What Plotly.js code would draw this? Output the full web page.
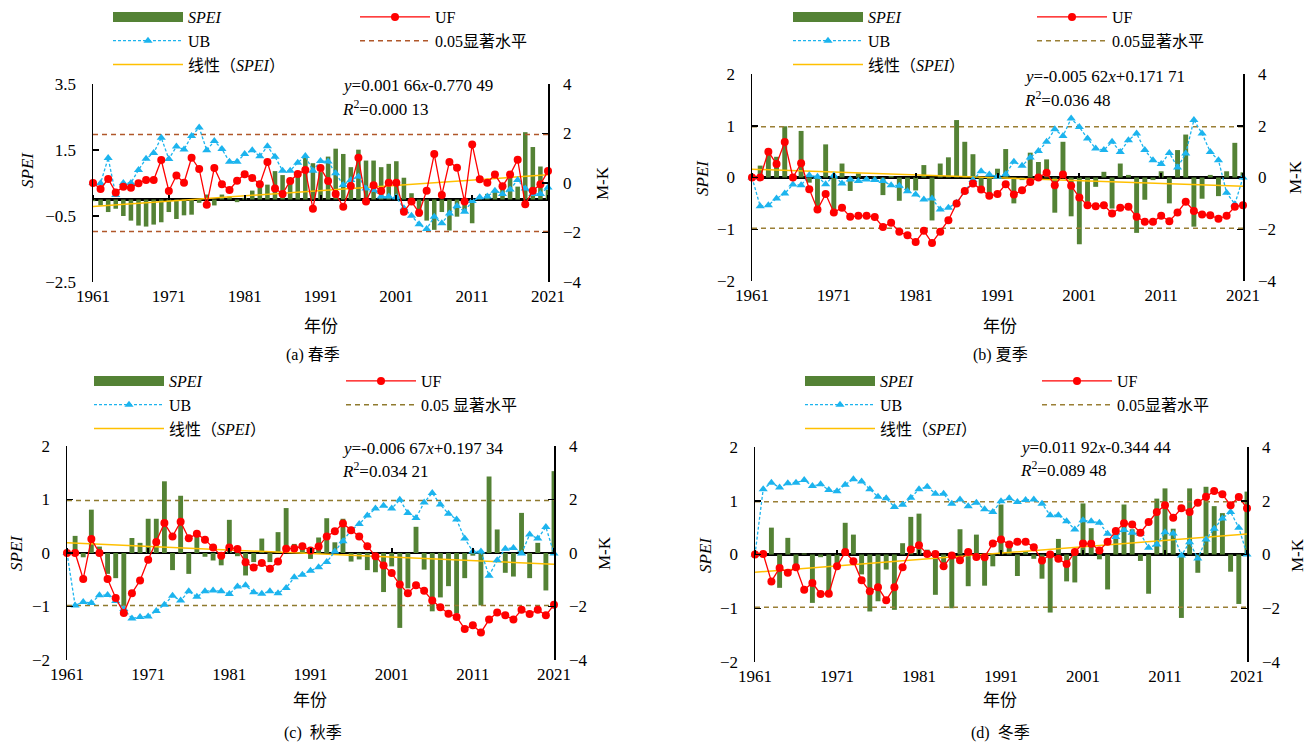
<!DOCTYPE html>
<html>
<head>
<meta charset="utf-8">
<script src="https://cdn.plot.ly/plotly-3.0.1.min.js"></script>
<style>html,body{margin:0;padding:0;background:#fff;}#chart{width:1309px;height:747px;}</style>
</head>
<body>
<div id="chart"></div>
<script>
// ---------- DATA ----------
const years = Array.from({length: 61}, (_, i) => 1961 + i);
const decadeTicks = [1961, 1971, 1981, 1991, 2001, 2011, 2021];
const trendYears = [1961, 2021];
const sigLevel = 1.96;

// (a) 春季
const speiSpring = [-0.05,-0.18,-0.38,-0.28,-0.5,-0.64,-0.79,-0.82,-0.76,-0.69,-0.38,
  -0.59,-0.48,-0.46,-0.1,0.15,-0.18,0.15,0.09,-0.08,0.05,
  0.27,0.37,0.45,0.86,0.74,0.6,0.86,1.3,1.1,0.83,
  1.3,1.54,1.38,0.98,1.51,1.18,1.18,0.98,1.08,1.16,
  0.66,0.19,-0.52,-0.64,-0.92,-0.38,-0.94,-0.52,-0.38,-0.72,
  0.09,0.17,0.27,0.47,0.68,0.39,2.04,1.59,1.0,0.3];
const ufSpring = [0,-0.24,0.16,-0.38,-0.15,-0.19,-0.01,0.12,0.12,0.93,-0.32,
  0.30,0.01,1.02,0.57,-0.88,0.61,-0.05,-0.28,0.09,0.35,
  0.2,-0.05,0.85,-0.22,-0.44,0.08,0.36,0.53,-1.04,0.61,
  0.08,-0.44,-0.96,-0.12,1.02,-0.75,-0.09,-0.32,0.01,0.01,
  -1.16,-0.75,-1.2,-0.31,1.17,-0.48,0.85,0.62,-0.75,1.56,
  0.15,0.01,0.34,-0.13,0.34,0.94,-0.86,-0.31,-0.05,0.48];
const ubSpring = [0,-0.01,1.01,-0.48,0,0,0.53,0.98,1.21,1.83,0.97,
  1.47,1.35,1.9,2.24,1.32,1.7,1.37,0.86,0.86,1.17,
  1.32,1.08,1.48,1.06,0.5,0.5,0.82,1.09,0.5,0.89,
  0.87,0.39,-0.08,0.12,0.26,-0.22,-0.28,-0.55,-0.55,-0.58,
  -1.02,-1.32,-1.67,-1.86,-1.36,-1.63,-1.23,-0.93,-1.16,-0.73,
  -0.58,-0.55,-0.31,-0.44,-0.26,0.12,-0.22,-0.44,-0.44,-0.18];
const trendSpring = [-0.21, 0.75];

// (b) 夏季
const speiSummer = [0,0.23,0.46,0.4,0.99,0.05,0.9,-0.1,-0.6,0.64,-0.62,
  0.27,-0.26,0.08,-0.03,0.02,-0.34,0.03,-0.45,-0.28,-0.25,
  0.24,-0.83,0.27,0.39,1.11,0.69,0.45,-0.18,-0.3,0.17,
  0.55,-0.5,-0.05,0.48,0.3,0.35,-0.68,0.69,-0.75,-1.29,
  -0.47,-0.18,0.11,-0.6,0.27,0.05,-1.07,-0.43,-0.05,0.12,
  -0.5,0.53,0.83,-0.95,-0.41,0.05,-0.36,0.12,0.67,0.1];
const ufSummer = [0,0,1.0,0.52,1.37,0,0.55,-0.45,-1.24,-0.64,-1.35,
  -1.17,-1.52,-1.48,-1.48,-1.53,-1.91,-1.75,-2.1,-2.23,-2.49,
  -2.06,-2.53,-2.1,-1.65,-1.0,-0.52,-0.23,-0.46,-0.71,-0.64,
  -0.26,-0.66,-0.49,-0.17,0,0.18,-0.3,0.12,-0.32,-0.77,
  -1.07,-1.11,-1.07,-1.39,-1.17,-1.13,-1.52,-1.71,-1.71,-1.48,
  -1.69,-1.35,-0.94,-1.29,-1.43,-1.46,-1.59,-1.48,-1.13,-1.07];
const ubSummer = [0,-1.11,-1.07,-0.81,-0.62,-0.27,-0.3,0.09,0.03,-0.26,0.08,
  -0.23,-0.08,-0.14,-0.08,-0.1,-0.14,-0.3,-0.32,-0.53,-0.66,
  -0.85,-0.81,-1.24,-1.17,-0.98,-0.53,-0.1,0.24,0.12,0.03,
  0.13,0.61,0.45,0.77,1.02,1.38,1.86,1.6,2.28,1.95,
  1.51,1.12,1.06,1.38,0.99,1.44,1.7,1.06,0.67,0.52,
  0.95,0.39,0.93,2.22,1.7,0.99,0.67,-0.59,-1.03,0];
const trendSummer = [0.16, -0.17];

// (c) 秋季
const speiAutumn = [0,0.32,-0.08,0.81,0.12,-0.39,-0.47,-1.0,0.28,0.19,0.64,
  0.64,1.34,-0.32,1.07,-0.39,0.31,-0.07,-0.14,-0.23,0.62,
  -0.06,-0.42,-0.17,0.27,-0.17,0.39,0.84,0.17,0.1,-0.11,
  0.29,0.65,0.2,0.64,-0.16,-0.12,-0.32,-0.36,-0.73,-0.25,
  -1.4,-0.66,0.49,-0.31,-1.09,-0.83,-0.62,-1.13,-0.47,-0.05,
  -0.98,1.43,0.44,-0.37,-0.44,0.75,-0.47,0.19,-0.7,1.53];
const ufAutumn = [0,0,-0.97,0.52,0,-0.97,-1.68,-2.24,-1.5,-1.03,-0.25,
  0.41,1.12,0.62,1.17,0.55,0.72,0.5,0.21,-0.1,0.21,
  0.15,-0.35,-0.54,-0.37,-0.59,-0.32,0.16,0.17,0.25,0.09,
  0.24,0.62,0.81,1.1,0.85,0.62,0.25,-0.12,-0.47,-0.75,
  -1.18,-1.5,-1.21,-1.41,-1.78,-2.03,-2.27,-2.39,-2.84,-2.7,
  -2.97,-2.49,-2.22,-2.33,-2.49,-2.12,-2.28,-2.12,-2.33,-1.93];
const ubAutumn = [0,-1.96,-1.83,-1.87,-1.58,-1.57,-1.79,-2.09,-2.45,-2.39,-2.37,
  -2.17,-1.93,-1.6,-1.78,-1.43,-1.64,-1.43,-1.4,-1.43,-1.53,
  -1.25,-1.21,-1.47,-1.52,-1.43,-1.5,-1.31,-0.91,-0.81,-0.66,
  -0.53,-0.34,0.06,0.44,0.85,1.08,1.4,1.66,1.77,1.66,
  1.99,1.5,1.31,1.89,2.24,1.81,1.47,1.25,0.54,0.06,
  0.06,-0.85,-0.27,0.16,0.19,-0.02,0.69,0.54,0.97,-0.02];
const trendAutumn = [0.19, -0.21];

// (d) 冬季
const speiWinter = [0,0.05,0.5,-0.62,0.31,-0.19,0.02,-0.9,-0.05,-0.78,-0.16,
  0.59,0.37,-0.37,-1.06,-0.87,-0.28,-1.03,0.21,0.7,0.76,
  0.09,-0.75,-0.16,-1.0,0.47,-0.59,0.37,-0.58,-0.22,0.93,
  0.15,-0.4,0.06,-0.08,-0.45,-1.08,0.29,-0.5,-0.52,0.95,
  0.49,-0.09,-0.65,0.47,0.93,0.47,-0.12,-0.73,1.04,1.23,
  0.48,-1.18,1.23,-0.34,1.26,0.9,0.77,-0.32,-0.92,1.17];
const ufWinter = [0,0.02,-1.0,-0.5,-0.68,-0.47,-1.31,-1.06,-1.47,-1.46,-0.44,
  0.09,-0.25,-0.96,-1.37,-1.22,-1.7,-1.22,-0.47,0.19,0.34,
  0.02,0.02,-0.44,-0.04,-0.21,0.09,-0.09,-0.1,0.41,0.56,
  0.37,0.47,0.47,0.27,-0.22,0,-0.16,-0.35,0.09,0.41,
  0.4,0.15,0.47,0.87,1.16,1.12,0.81,1.21,1.58,1.83,
  1.37,1.72,1.58,1.93,2.15,2.36,2.24,1.83,2.14,1.72];
const ubWinter = [0,2.43,2.67,2.49,2.65,2.67,2.77,2.55,2.61,2.4,2.35,
  2.6,2.8,2.72,2.43,2.15,2.09,1.77,1.85,2.11,2.43,
  2.52,2.26,2.26,1.89,2.05,1.8,1.93,1.68,1.58,1.98,
  2.09,1.95,2.03,2.05,1.89,1.46,1.46,1.24,0.93,1.27,
  1.24,1.18,0.77,0.65,0.91,0.81,0.77,0.25,0.37,0.83,
  0.78,-0.04,0.46,-0.15,0.56,0.96,1.34,1.58,1.0,0];
const trendWinter = [-0.33, 0.38];

const equations = [
  ['<i>y</i>=0.001 66<i>x</i>-0.770 49', '<i>R</i><sup>2</sup>=0.000 13'],
  ['<i>y</i>=-0.005 62<i>x</i>+0.171 71', '<i>R</i><sup>2</sup>=0.036 48'],
  ['<i>y</i>=-0.006 67<i>x</i>+0.197 34', '<i>R</i><sup>2</sup>=0.034 21'],
  ['<i>y</i>=0.011 92<i>x</i>-0.344 44', '<i>R</i><sup>2</sup>=0.089 48']
];
const captions = ['(a) 春季', '(b) 夏季', '(c)  秋季', '(d)  冬季'];
const sigNames = ['0.05显著水平', '0.05显著水平', '0.05 显著水平', '0.05显著水平'];

// ---------- LAYOUT GEOMETRY (pixels) ----------
const W = 1309, H = 747;
const px = v => v / W, py = v => 1 - v / H;
const panels = [
  {spei: speiSpring, uf: ufSpring, ub: ubSpring, trend: trendSpring,
   box: [93, 548, 84, 282], left: [-2.5, 3.5], leftTicks: [-2.5, -0.5, 1.5, 3.5], sigColor: '#B0572A',
   legL: [108, 0], legR: [355, 0], eq: [340, 86], ytitle: [28, 170], mk: [603, 183], xt: [321, 326], cap: [313, 355]},
  {spei: speiSummer, uf: ufSummer, ub: ubSummer, trend: trendSummer,
   box: [752, 1243, 74, 281], left: [-2, 2], leftTicks: [-2, -1, 0, 1, 2], sigColor: '#9A7F35',
   legL: [788, 0], legR: [1032, 0], eq: [1022, 77], ytitle: [703, 178], mk: [1295, 177], xt: [1000, 326], cap: [1000, 355]},
  {spei: speiAutumn, uf: ufAutumn, ub: ubAutumn, trend: trendAutumn,
   box: [67, 554, 446, 660], left: [-2, 2], leftTicks: [-2, -1, 0, 1, 2], sigColor: '#8F7A2E',
   legL: [89, 364], legR: [341, 364], eq: [340, 448], ytitle: [16, 553], mk: [604, 553], xt: [310, 700], cap: [313, 733]},
  {spei: speiWinter, uf: ufWinter, ub: ubWinter, trend: trendWinter,
   box: [755, 1247, 447, 662], left: [-2, 2], leftTicks: [-2, -1, 0, 1, 2], sigColor: '#9A7F35',
   legL: [800, 364], legR: [1037, 364], eq: [1018, 447], ytitle: [705, 555], mk: [1297, 555], xt: [1000, 700], cap: [1000, 733]}
];

const FONT = '"Liberation Serif", "Times New Roman", "Noto Sans CJK SC", serif';
const data = [];
const layout = {
  width: W, height: H, margin: {l: 0, r: 0, t: 0, b: 0, autoexpand: false},
  paper_bgcolor: '#fff', plot_bgcolor: 'rgba(0,0,0,0)',
  font: {family: FONT, size: 17, color: '#000'},
  showlegend: true, annotations: []
};

panels.forEach((p, k) => {
  const xa = k === 0 ? 'x' : 'x' + (k + 1);
  const xz = 'x' + (k + 5);            // overlay axis that draws the ticks on the SPEI=0 line
  const yl = k === 0 ? 'y' : 'y' + (2 * k + 1);
  const yr = 'y' + (2 * k + 2);
  const legL = k === 0 ? 'legend' : 'legend' + (2 * k + 1);
  const legR = 'legend' + (2 * k + 2);
  const ubLine = {color: '#1CB4EE', width: 1.3, dash: '3px,2px'};
  const sigLine = {color: p.sigColor, width: 1.5, dash: '5px,4px'};

  // legend-only swatch for SPEI bars (also anchors the zero-line tick axis)
  data.push({type: 'scatter', mode: 'lines', x: [null], y: [null], xaxis: xz, yaxis: yl,
    name: '<i>SPEI</i>', legend: legL, line: {color: '#548235', width: 10}, hoverinfo: 'skip'});
  data.push({type: 'bar', x: years, y: p.spei, xaxis: xa, yaxis: yl, width: 0.6,
    marker: {color: '#548235', line: {width: 0}}, showlegend: false, name: 'SPEI'});
  data.push({type: 'scatter', mode: 'lines+markers', x: [null], y: [null], xaxis: xa, yaxis: yr,
    name: 'UB', legend: legL, line: ubLine,
    marker: {symbol: 'triangle-up', size: 8, color: '#1CB4EE'}, hoverinfo: 'skip'});
  data.push({type: 'scatter', mode: 'lines', x: trendYears, y: p.trend, xaxis: xa, yaxis: yl,
    name: '线性（<i>SPEI</i>）', legend: legL, line: {color: '#FFC000', width: 1.5}});
  // significance lines on M-K axis
  data.push({type: 'scatter', mode: 'lines', x: trendYears, y: [sigLevel, sigLevel], xaxis: xa, yaxis: yr,
    name: sigNames[k], legend: legR, line: sigLine, showlegend: false});
  data.push({type: 'scatter', mode: 'lines', x: trendYears, y: [-sigLevel, -sigLevel], xaxis: xa, yaxis: yr,
    name: sigNames[k], legend: legR, line: sigLine, showlegend: false});
  data.push({type: 'scatter', mode: 'lines+markers', x: years, y: p.ub, xaxis: xa, yaxis: yr,
    name: 'UB', showlegend: false, cliponaxis: false, line: ubLine,
    marker: {symbol: 'triangle-up', size: 8, color: '#1CB4EE'}});
  data.push({type: 'scatter', mode: 'lines+markers', x: years, y: p.uf, xaxis: xa, yaxis: yr,
    name: 'UF', legend: legR, cliponaxis: false,
    line: {color: '#FF0000', width: 1.3},
    marker: {symbol: 'circle', size: 8, color: '#FF0000'}});
  data.push({type: 'scatter', mode: 'lines', x: [null], y: [null], xaxis: xa, yaxis: yr,
    name: sigNames[k], legend: legR, line: sigLine, hoverinfo: 'skip'});

  const [x0, x1, y0, y1] = p.box;
  const xKey = k === 0 ? 'xaxis' : 'xaxis' + (k + 1);
  const xzKey = 'xaxis' + (k + 5);
  const ylKey = k === 0 ? 'yaxis' : 'yaxis' + (2 * k + 1);
  const yrKey = 'yaxis' + (2 * k + 2);
  const yDom = [py(y1), py(y0)];
  layout[xKey] = {domain: [px(x0), px(x1)], range: [1961, 2021], anchor: yl,
    tickvals: decadeTicks, ticks: '', showline: false, showgrid: false, zeroline: false,
    tickfont: {size: 17}, ticklabelstandoff: 2};
  // ticks sitting on the SPEI = 0 line
  const zeroFrac = (0 - p.left[0]) / (p.left[1] - p.left[0]);
  layout[xzKey] = {domain: [px(x0), px(x1)], range: [1961, 2021], overlaying: xa, anchor: 'free',
    position: yDom[0] + zeroFrac * (yDom[1] - yDom[0]), side: 'top',
    tickvals: decadeTicks, ticks: 'outside', ticklen: 5, tickwidth: 2, tickcolor: '#000',
    showticklabels: false, showline: false, showgrid: false, zeroline: false};
  layout[ylKey] = {domain: yDom, range: p.left, anchor: xa, side: 'left',
    tickvals: p.leftTicks, ticks: 'inside', ticklen: 6, tickwidth: 1.5, tickcolor: '#000',
    showline: true, linecolor: '#000', linewidth: 1.5, showgrid: false,
    zeroline: true, zerolinecolor: '#000', zerolinewidth: 2.5,
    tickfont: {size: 17}, ticklabelstandoff: 12};
  layout[yrKey] = {domain: yDom, range: [-4, 4], overlaying: yl, anchor: xa, side: 'right',
    tickvals: [-4, -2, 0, 2, 4], ticks: 'inside', ticklen: 6, tickwidth: 1.5, tickcolor: '#000',
    showline: true, linecolor: '#000', linewidth: 1.5, showgrid: false, zeroline: false,
    tickfont: {size: 17}, ticklabelstandoff: 10};

  const legBase = {xref: 'paper', yref: 'paper', xanchor: 'left', yanchor: 'top',
    bgcolor: 'rgba(0,0,0,0)', borderwidth: 0, itemwidth: 70, tracegroupgap: 0,
    font: {family: FONT, size: 16, color: '#000'}, itemclick: false, itemdoubleclick: false};
  layout[legL] = Object.assign({}, legBase, {x: px(p.legL[0]), y: py(p.legL[1])});
  layout[legR] = Object.assign({}, legBase, {x: px(p.legR[0]), y: py(p.legR[1])});

  const ann = (x, y, text, extra) => layout.annotations.push(Object.assign(
    {xref: 'paper', yref: 'paper', x: px(x), y: py(y), text: text, showarrow: false,
     font: {family: FONT, size: 17, color: '#000'}, xanchor: 'center', yanchor: 'middle'}, extra || {}));
  ann(p.eq[0], p.eq[1], equations[k][0], {xanchor: 'left'});
  ann(p.eq[0], p.eq[1] + 22, equations[k][1], {xanchor: 'left'});
  ann(p.ytitle[0], p.ytitle[1], '<i>SPEI</i>', {textangle: -90});
  ann(p.mk[0], p.mk[1], 'M-K', {textangle: -90});
  ann(p.xt[0], p.xt[1], '年份');
  ann(p.cap[0], p.cap[1], captions[k], {font: {family: FONT, size: 16, color: '#000'}});
});

Plotly.newPlot('chart', data, layout, {staticPlot: true, displayModeBar: false});
</script>
</body>
</html>
